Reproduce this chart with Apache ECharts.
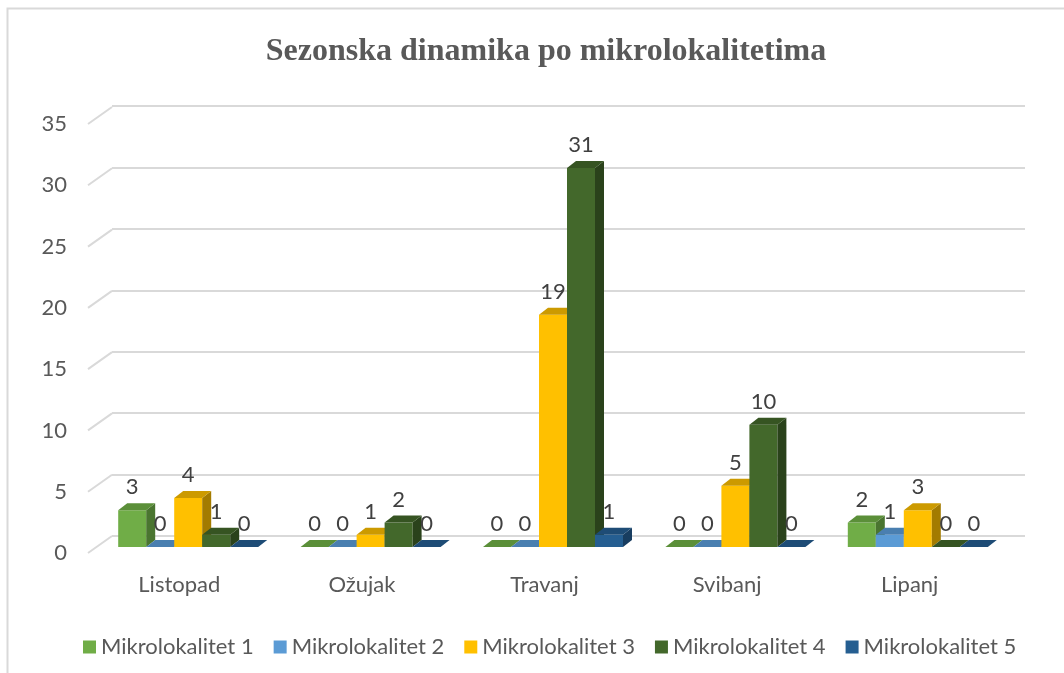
<!DOCTYPE html>
<html>
<head>
<meta charset="utf-8">
<script src="https://cdn.jsdelivr.net/npm/echarts@6/dist/echarts.min.js"></script>
<style>
  html, body { margin: 0; padding: 0; background: #fff; }
  #chart { width: 1064px; height: 673px; }
</style>
</head>
<body>
<div id="chart"></div>
<script>
// podaci
const categories = ["Listopad", "Ožujak", "Travanj", "Svibanj", "Lipanj"];
const seriesNames = ["Mikrolokalitet 1", "Mikrolokalitet 2", "Mikrolokalitet 3", "Mikrolokalitet 4", "Mikrolokalitet 5"];
const mikro1 = [3, 0, 0, 0, 2];
const mikro2 = [0, 0, 0, 0, 1];
const mikro3 = [4, 1, 19, 5, 3];
const mikro4 = [1, 2, 31, 10, 0];
const mikro5 = [0, 0, 1, 0, 0];
const yTicks = [0, 5, 10, 15, 20, 25, 30, 35];

const allData = [mikro1, mikro2, mikro3, mikro4, mikro5];
// boje: prednja, gornja, bočna strana
const faces = [
  ["#70ad47", "#5b8f39", "#4a7530"],
  ["#5b9bd5", "#4a7fb0", "#3c6893"],
  ["#ffc000", "#cc9a00", "#a37b00"],
  ["#43682b", "#365422", "#2a421b"],
  ["#255e91", "#1e4c76", "#183d60"],
];
const font = "Lato, 'Noto Sans', sans-serif";
const DX = 9, DY = 7, BW = 28;

function barRender(si) {
  return function (params, api) {
    const idx = api.value(0);
    const val = api.value(1);
    const top = api.coord([idx, val]);
    const base = api.coord([idx, 0]);
    const left = top[0] - (5 * BW) / 2 + si * BW;
    const t = top[1];
    const b = base[1];
    const f = faces[si];
    const children = [];
    if (b - t > 0.5) {
      children.push({
        type: "rect",
        shape: { x: left, y: t, width: BW, height: b - t },
        style: { fill: f[0] },
      });
      children.push({
        type: "polygon",
        shape: { points: [[left + BW, t], [left + BW + DX, t - DY], [left + BW + DX, b - DY], [left + BW, b]] },
        style: { fill: f[2] },
      });
    }
    children.push({
      type: "polygon",
      shape: { points: [[left, t], [left + BW, t], [left + BW + DX, t - DY], [left + DX, t - DY]] },
      style: { fill: f[1] },
    });
    children.push({
      type: "text",
      x: left + BW / 2,
      y: t - 23,
      style: { text: String(val), align: "center", verticalAlign: "middle", fill: "#404040", fontSize: 22, fontFamily: font },
    });
    return { type: "group", children: children };
  };
}

const myChart = echarts.init(document.getElementById("chart"));
const barSeries = allData.map((arr, si) => ({
  name: seriesNames[si],
  type: "custom",
  xAxisIndex: 2,
  yAxisIndex: 2,
  itemStyle: { color: faces[si][0] },
  renderItem: barRender(si),
  data: arr.map((v, i) => [i, v]),
}));

const option = {
  animation: false,
  title: {
    text: "Sezonska dinamika po mikrolokalitetima",
    left: 541,
    top: 31,
    textAlign: "center",
    textStyle: { fontFamily: "'Liberation Serif', 'DejaVu Serif', serif", fontWeight: "bold", fontSize: 32, color: "#595959" },
  },
  graphic: [
    {
      type: "rect",
      shape: { x: 7.5, y: 8.5, width: 1100, height: 700 },
      style: { fill: "none", stroke: "#d9d9d9", lineWidth: 2 },
      silent: true,
    },
  ],
  legend: {
    top: 631,
    left: 78,
    icon: "rect",
    itemWidth: 13,
    itemHeight: 13,
    itemGap: 20,
    textStyle: { fontFamily: font, fontSize: 22, color: "#595959" },
    data: seriesNames,
  },
  grid: [
    { left: 112, right: 39, top: 106, bottom: 137 },
    { left: 88, right: 63, top: 124, bottom: 120 },
    { left: 97, right: 55, top: 119, bottom: 126 },
  ],
  xAxis: [
    { type: "category", gridIndex: 0, data: categories, show: false },
    {
      type: "category",
      gridIndex: 1,
      data: categories,
      axisLine: { show: false },
      axisTick: { show: false },
      axisLabel: { margin: 21, fontFamily: font, fontSize: 22, color: "#595959" },
    },
    { type: "category", gridIndex: 2, data: categories, show: false },
  ],
  yAxis: [
    {
      type: "value",
      gridIndex: 0,
      min: 0,
      max: 35,
      interval: 5,
      axisLine: { show: false },
      axisTick: { show: false },
      axisLabel: { show: false },
      splitLine: { lineStyle: { color: "#d9d9d9", width: 2 } },
    },
    {
      type: "value",
      gridIndex: 1,
      min: 0,
      max: 35,
      interval: 5,
      axisLine: { show: false },
      axisTick: { show: false },
      splitLine: { show: false },
      axisLabel: { margin: 21, fontFamily: font, fontSize: 22, color: "#595959" },
    },
    { type: "value", gridIndex: 2, min: 0, max: 35, interval: 5, show: false, splitLine: { show: false } },
  ],
  series: [
    {
      type: "custom",
      name: "kosine",
      xAxisIndex: 1,
      yAxisIndex: 1,
      silent: true,
      data: yTicks.map((v) => [0, v]),
      renderItem: function (params, api) {
        const p = api.coord([0, api.value(1)]);
        const x0 = params.coordSys.x;
        return {
          type: "line",
          shape: { x1: x0, y1: p[1], x2: x0 + 24, y2: p[1] - 17 },
          style: { stroke: "#d9d9d9", lineWidth: 2 },
        };
      },
    },
  ].concat(barSeries),
};
myChart.setOption(option);
</script>
</body>
</html>
